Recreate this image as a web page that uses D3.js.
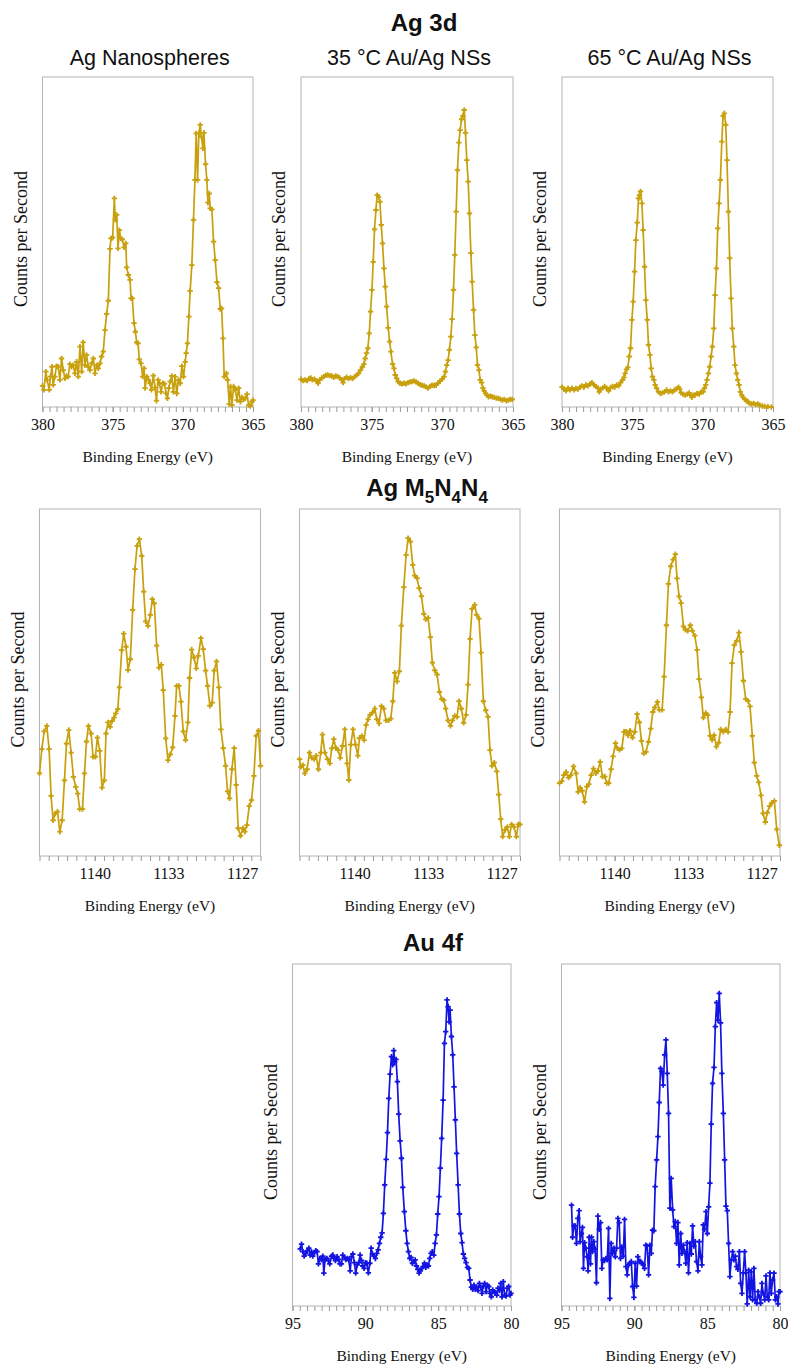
<!DOCTYPE html>
<html><head><meta charset="utf-8">
<script src="https://cdn.jsdelivr.net/npm/d3@7"></script>
<style>body{margin:0;background:#fff} svg{display:block}</style>
</head><body><svg id="c" width="788" height="1367"></svg>
<script>
// ---------------- DATA (binding energy eV, relative counts per second) ----------------
const agNS3d = [[380.00,6.4],[379.90,5.2],[379.76,10.7],[379.67,8.2],[379.52,5.2],[379.43,9.2],[379.33,12.2],[379.24,6.7],[379.12,9.2],[379.00,12.4],[378.88,12.2],[378.76,8.2],[378.64,14.7],[378.52,11.2],[378.40,8.7],[378.29,9.4],[378.17,9.2],[378.05,13.0],[377.93,12.2],[377.81,12.7],[377.69,10.2],[377.57,13.7],[377.45,9.2],[377.33,18.3],[377.21,10.7],[377.10,19.6],[376.98,12.7],[376.86,15.8],[376.74,12.2],[376.62,11.2],[376.50,13.2],[376.38,14.7],[376.26,10.2],[376.14,12.7],[376.02,11.7],[375.90,13.2],[375.79,15.3],[375.67,16.8],[375.55,23.3],[375.43,28.2],[375.31,32.2],[375.19,47.9],[375.12,51.1],[375.00,51.3],[374.88,63.2],[374.81,56.7],[374.71,58.2],[374.62,48.1],[374.52,53.6],[374.43,51.1],[374.31,50.8],[374.19,48.4],[374.07,49.6],[374.00,42.3],[373.88,40.0],[373.76,38.5],[373.69,32.9],[373.60,32.9],[373.48,25.4],[373.38,22.8],[373.29,19.6],[373.19,19.3],[373.10,14.4],[372.98,13.2],[372.86,9.2],[372.76,11.7],[372.69,5.7],[372.57,9.2],[372.45,8.2],[372.33,7.2],[372.24,5.2],[372.10,9.5],[371.98,5.9],[371.88,1.9],[371.76,8.2],[371.67,7.2],[371.55,4.6],[371.43,7.2],[371.31,7.0],[371.19,4.1],[371.10,2.6],[371.00,5.7],[370.90,7.7],[370.79,9.4],[370.67,4.6],[370.55,9.2],[370.43,4.1],[370.31,8.2],[370.19,7.2],[370.07,12.4],[369.95,9.2],[369.83,13.7],[369.76,16.3],[369.67,19.3],[369.57,27.4],[369.48,35.2],[369.36,43.0],[369.24,56.7],[369.14,68.8],[369.05,82.9],[368.95,68.8],[368.86,82.9],[368.76,85.5],[368.67,81.9],[368.57,78.4],[368.50,83.1],[368.38,73.6],[368.29,68.8],[368.21,61.9],[368.12,64.7],[368.05,60.2],[367.93,59.9],[367.81,50.1],[367.69,44.5],[367.57,37.8],[367.45,36.0],[367.33,29.7],[367.24,29.9],[367.14,20.8],[367.05,9.2],[366.90,10.2],[366.81,8.2],[366.69,0.9],[366.60,6.2],[366.50,0.6],[366.38,6.2],[366.26,5.2],[366.14,2.1],[366.02,5.7],[365.90,1.6],[365.79,2.9],[365.67,2.3],[365.55,2.6],[365.43,3.9],[365.31,0.6],[365.19,0.3],[365.07,1.6],[365.00,2.1]];

const au35_3d = [[380.00,8.4],[379.86,8.0],[379.72,8.2],[379.57,8.0],[379.43,8.6],[379.31,8.8],[379.20,8.2],[379.05,8.4],[378.91,8.0],[378.79,7.2],[378.68,8.2],[378.53,8.8],[378.39,9.2],[378.25,9.6],[378.11,9.7],[377.97,9.5],[377.82,9.4],[377.68,9.0],[377.54,9.4],[377.40,9.2],[377.26,8.8],[377.11,8.2],[377.02,7.4],[376.92,8.6],[376.78,9.0],[376.64,8.6],[376.50,8.9],[376.36,8.6],[376.21,9.2],[376.07,9.6],[375.93,10.2],[375.79,11.2],[375.65,12.2],[375.55,13.0],[375.46,14.7],[375.36,16.3],[375.27,17.8],[375.17,22.3],[375.08,28.9],[374.98,35.5],[374.89,44.0],[374.80,53.8],[374.70,59.7],[374.61,64.2],[374.51,63.7],[374.42,62.2],[374.32,55.2],[374.23,49.6],[374.13,42.0],[374.04,36.5],[373.94,30.4],[373.83,24.0],[373.73,19.8],[373.64,16.8],[373.52,13.0],[373.42,11.7],[373.33,9.7],[373.23,8.7],[373.12,7.7],[373.00,7.2],[372.86,7.0],[372.71,7.2],[372.57,7.0],[372.43,7.4],[372.29,7.6],[372.15,7.7],[372.00,7.9],[371.86,7.6],[371.72,7.2],[371.58,6.8],[371.44,6.6],[371.29,6.4],[371.15,6.1],[371.01,5.7],[370.87,6.2],[370.73,6.6],[370.58,6.5],[370.44,6.6],[370.30,7.2],[370.16,7.9],[370.02,8.4],[369.87,9.2],[369.78,10.7],[369.69,12.7],[369.59,14.2],[369.50,17.3],[369.40,21.3],[369.31,26.6],[369.21,35.5],[369.12,46.1],[369.02,59.2],[368.93,71.8],[368.83,80.1],[368.74,83.9],[368.64,87.2],[368.55,88.2],[368.45,90.0],[368.36,83.1],[368.27,74.8],[368.17,68.3],[368.08,58.7],[367.98,46.6],[367.89,38.0],[367.79,29.4],[367.70,21.8],[367.60,18.1],[367.51,12.7],[367.41,11.2],[367.32,8.2],[367.22,7.4],[367.13,5.7],[367.04,4.9],[366.94,4.1],[366.85,3.6],[366.73,3.1],[366.61,3.3],[366.47,3.1],[366.33,2.9],[366.18,2.7],[366.04,2.6],[365.90,2.4],[365.76,2.1],[365.62,2.3],[365.47,1.9],[365.33,2.1],[365.19,2.3],[365.05,2.3]];

const au65_3d = [[380.00,6.0],[379.86,5.4],[379.72,4.9],[379.57,5.7],[379.43,5.2],[379.29,5.7],[379.15,5.2],[379.01,5.6],[378.86,5.4],[378.72,6.0],[378.58,6.4],[378.44,6.0],[378.30,6.7],[378.15,6.4],[378.01,7.0],[377.87,7.4],[377.73,6.7],[377.59,6.2],[377.45,5.7],[377.35,4.6],[377.26,5.4],[377.11,5.7],[376.97,6.2],[376.83,5.7],[376.69,4.9],[376.55,5.9],[376.40,6.2],[376.26,6.0],[376.12,6.7],[375.98,6.4],[375.84,7.4],[375.69,8.2],[375.60,9.0],[375.51,10.2],[375.41,11.4],[375.32,12.0],[375.22,15.3],[375.13,17.8],[375.03,26.4],[374.94,31.9],[374.84,41.0],[374.75,50.6],[374.65,55.9],[374.56,63.2],[374.49,64.2],[374.42,65.3],[374.32,61.7],[374.23,53.6],[374.13,42.5],[374.04,32.4],[373.94,26.4],[373.85,18.8],[373.75,15.8],[373.66,11.7],[373.57,9.2],[373.47,8.2],[373.38,6.7],[373.28,5.7],[373.14,4.6],[373.00,4.1],[372.86,4.3],[372.71,4.6],[372.57,5.2],[372.43,4.6],[372.29,4.9],[372.15,4.6],[372.00,5.2],[371.86,5.4],[371.72,6.0],[371.63,5.4],[371.53,4.3],[371.39,3.9],[371.25,3.6],[371.10,3.9],[370.96,4.3],[370.87,3.6],[370.77,2.9],[370.68,3.6],[370.54,3.6],[370.40,4.1],[370.25,3.9],[370.11,4.6],[369.97,4.6],[369.87,5.7],[369.78,6.7],[369.69,8.2],[369.59,10.2],[369.50,12.2],[369.40,15.3],[369.31,18.3],[369.21,23.8],[369.12,33.9],[369.02,42.0],[368.93,54.1],[368.83,61.7],[368.74,68.8],[368.64,80.4],[368.55,88.2],[368.46,89.0],[368.36,85.5],[368.27,74.8],[368.17,59.2],[368.08,45.1],[367.98,32.9],[367.89,23.8],[367.79,18.3],[367.70,12.7],[367.60,10.2],[367.51,8.2],[367.41,6.7],[367.32,4.6],[367.22,3.6],[367.13,2.9],[367.01,2.3],[366.89,1.9],[366.78,1.6],[366.66,1.1],[366.52,0.9],[366.37,1.1],[366.23,0.7],[366.09,0.9],[365.95,0.6],[365.76,0.3],[365.59,0.2],[365.36,0.1],[365.12,0.0]];

const agNS_MNN = [[1145.00,23.8],[1144.79,30.8],[1144.58,35.9],[1144.34,37.5],[1144.13,30.8],[1143.95,17.3],[1143.77,10.3],[1143.58,12.2],[1143.37,12.8],[1143.16,7.0],[1142.95,10.3],[1142.74,21.8],[1142.56,32.4],[1142.35,36.3],[1142.14,29.8],[1141.93,22.8],[1141.72,19.9],[1141.54,18.0],[1141.36,13.5],[1141.11,13.5],[1140.93,23.8],[1140.75,33.0],[1140.57,37.5],[1140.33,35.3],[1140.15,28.6],[1139.94,28.6],[1139.76,34.1],[1139.55,30.3],[1139.34,19.7],[1139.13,21.8],[1138.98,35.3],[1138.80,38.5],[1138.61,37.2],[1138.43,38.9],[1138.25,39.9],[1138.10,41.1],[1137.92,42.3],[1137.77,48.6],[1137.56,59.3],[1137.38,64.1],[1137.17,60.3],[1136.99,53.6],[1136.78,56.7],[1136.57,70.9],[1136.36,82.7],[1136.17,89.4],[1135.96,91.3],[1135.75,86.5],[1135.57,76.2],[1135.39,67.6],[1135.18,66.3],[1134.97,69.5],[1134.79,74.0],[1134.61,72.8],[1134.40,60.6],[1134.19,54.3],[1133.98,55.1],[1133.80,47.8],[1133.58,33.9],[1133.37,27.6],[1133.16,29.3],[1132.95,31.3],[1132.74,40.4],[1132.59,49.0],[1132.38,49.0],[1132.20,44.5],[1131.99,35.9],[1131.78,33.4],[1131.57,38.5],[1131.42,51.3],[1131.23,59.5],[1131.02,57.2],[1130.81,54.1],[1130.63,57.7],[1130.39,62.8],[1130.18,59.6],[1129.97,53.4],[1129.79,49.0],[1129.58,43.3],[1129.37,44.2],[1129.19,53.4],[1128.98,56.1],[1128.77,48.6],[1128.58,36.5],[1128.37,31.1],[1128.16,26.0],[1127.98,18.6],[1127.80,16.6],[1127.59,25.0],[1127.38,31.1],[1127.20,20.5],[1127.02,8.0],[1126.81,5.8],[1126.60,8.0],[1126.42,7.0],[1126.23,8.9],[1126.02,14.4],[1125.81,16.1],[1125.60,23.1],[1125.39,34.6],[1125.18,36.1],[1125.00,26.0]];

const au35_MNN = [[1145.00,27.9],[1144.88,25.7],[1144.70,26.2],[1144.52,23.8],[1144.31,25.0],[1144.09,29.8],[1143.88,28.3],[1143.67,27.9],[1143.49,28.9],[1143.28,25.0],[1143.07,29.8],[1142.92,35.0],[1142.70,29.8],[1142.46,27.9],[1142.25,26.7],[1142.07,31.0],[1141.89,33.7],[1141.71,31.2],[1141.50,30.5],[1141.31,28.3],[1141.10,31.7],[1140.89,36.5],[1140.68,26.7],[1140.53,21.9],[1140.35,32.1],[1140.14,36.5],[1139.92,32.1],[1139.71,28.9],[1139.56,34.0],[1139.35,34.6],[1139.14,33.4],[1138.96,37.7],[1138.78,39.4],[1138.60,40.7],[1138.38,41.3],[1138.17,42.5],[1137.99,39.4],[1137.78,38.2],[1137.57,43.2],[1137.36,42.5],[1137.15,39.1],[1136.93,39.1],[1136.72,39.6],[1136.54,44.6],[1136.36,52.8],[1136.15,50.3],[1135.94,53.2],[1135.76,66.4],[1135.54,77.5],[1135.33,86.8],[1135.15,91.6],[1134.94,90.6],[1134.73,83.9],[1134.55,80.8],[1134.34,80.1],[1134.15,77.2],[1133.94,74.9],[1133.73,69.8],[1133.55,68.2],[1133.34,68.6],[1133.13,63.1],[1132.95,55.7],[1132.73,53.5],[1132.52,52.3],[1132.31,47.3],[1132.10,45.2],[1131.92,44.9],[1131.74,42.5],[1131.53,39.1],[1131.31,37.5],[1131.13,39.1],[1130.92,40.4],[1130.71,40.1],[1130.53,44.6],[1130.32,42.5],[1130.11,38.4],[1129.89,40.7],[1129.71,49.4],[1129.53,62.6],[1129.35,71.2],[1129.11,72.4],[1128.93,69.5],[1128.72,68.4],[1128.53,58.6],[1128.32,44.6],[1128.11,42.0],[1127.90,40.1],[1127.72,30.5],[1127.54,26.0],[1127.33,26.9],[1127.11,24.4],[1126.93,17.7],[1126.75,10.6],[1126.57,5.6],[1126.36,7.5],[1126.15,8.4],[1125.97,5.6],[1125.76,9.1],[1125.54,8.4],[1125.33,5.6],[1125.15,9.1],[1125.00,9.1]];

const au65_MNN = [[1145.00,21.0],[1144.79,21.6],[1144.61,23.3],[1144.40,24.2],[1144.18,22.6],[1143.97,23.3],[1143.73,25.8],[1143.49,23.8],[1143.31,18.5],[1143.13,19.7],[1142.95,18.8],[1142.73,15.6],[1142.52,20.0],[1142.34,20.7],[1142.13,23.3],[1141.92,25.2],[1141.71,23.8],[1141.53,24.5],[1141.31,27.1],[1141.10,22.9],[1140.89,22.9],[1140.71,21.0],[1140.53,21.0],[1140.32,25.0],[1140.14,28.7],[1139.92,32.5],[1139.74,31.0],[1139.56,30.6],[1139.35,31.0],[1139.14,35.8],[1138.96,35.8],[1138.78,34.8],[1138.60,36.1],[1138.38,34.1],[1138.17,35.8],[1137.96,40.9],[1137.75,38.5],[1137.57,33.2],[1137.36,29.6],[1137.15,30.0],[1136.93,32.9],[1136.72,36.7],[1136.54,41.5],[1136.36,42.8],[1136.12,44.4],[1135.94,42.1],[1135.69,42.1],[1135.51,51.7],[1135.30,66.5],[1135.12,78.4],[1134.91,83.5],[1134.70,85.4],[1134.49,87.0],[1134.34,80.0],[1134.15,74.8],[1133.97,72.9],[1133.76,66.2],[1133.58,65.2],[1133.37,64.9],[1133.13,66.5],[1132.95,64.9],[1132.73,63.5],[1132.52,59.4],[1132.34,51.0],[1132.13,45.7],[1131.95,39.9],[1131.74,41.2],[1131.56,40.6],[1131.34,34.6],[1131.16,33.5],[1130.98,34.8],[1130.77,31.5],[1130.56,32.7],[1130.38,36.5],[1130.14,35.8],[1129.92,36.5],[1129.71,35.8],[1129.53,41.5],[1129.35,55.6],[1129.14,60.8],[1128.93,62.0],[1128.72,64.4],[1128.53,58.8],[1128.32,50.5],[1128.11,45.2],[1127.90,44.7],[1127.72,43.1],[1127.51,34.6],[1127.33,26.9],[1127.11,23.1],[1126.93,21.2],[1126.72,17.5],[1126.54,12.3],[1126.33,9.8],[1126.15,12.5],[1125.94,14.4],[1125.73,15.4],[1125.51,15.9],[1125.30,7.7],[1125.06,3.1]];

const au35_4f = [[94.47,16.7],[94.38,18.1],[94.29,15.9],[94.20,14.6],[94.09,15.4],[93.99,16.2],[93.88,16.9],[93.79,14.9],[93.70,15.9],[93.61,14.6],[93.49,15.6],[93.40,16.2],[93.31,15.9],[93.22,12.3],[93.12,13.9],[93.01,13.5],[92.92,14.6],[92.85,9.6],[92.76,13.6],[92.64,13.9],[92.53,13.3],[92.44,12.3],[92.32,14.6],[92.23,14.9],[92.14,13.9],[92.05,13.3],[91.94,14.4],[91.84,13.6],[91.75,12.3],[91.64,12.3],[91.55,14.9],[91.43,14.2],[91.34,13.6],[91.23,13.9],[91.14,13.5],[91.04,10.3],[90.95,14.4],[90.86,15.2],[90.75,12.7],[90.66,9.6],[90.56,12.0],[90.45,12.7],[90.36,14.9],[90.27,13.3],[90.18,11.7],[90.08,11.0],[89.99,12.7],[89.90,12.5],[89.79,9.7],[89.69,12.5],[89.60,16.9],[89.51,15.2],[89.40,14.6],[89.31,13.9],[89.21,15.4],[89.12,16.4],[89.03,18.3],[88.94,20.1],[88.85,21.4],[88.76,27.1],[88.67,35.4],[88.57,42.9],[88.48,50.7],[88.39,60.7],[88.30,67.8],[88.21,72.9],[88.12,70.5],[88.05,74.7],[87.98,71.4],[87.89,72.1],[87.80,65.6],[87.71,56.1],[87.61,48.3],[87.52,43.2],[87.43,34.7],[87.32,27.6],[87.22,22.0],[87.13,18.3],[87.04,15.9],[86.95,13.9],[86.86,14.2],[86.77,12.5],[86.68,13.0],[86.58,13.5],[86.49,11.7],[86.40,10.7],[86.31,9.6],[86.22,10.3],[86.13,11.0],[86.04,11.5],[85.94,12.5],[85.85,11.3],[85.76,12.0],[85.67,11.7],[85.58,13.9],[85.49,15.4],[85.40,15.9],[85.30,14.9],[85.21,18.3],[85.12,20.8],[85.03,26.9],[84.94,32.0],[84.85,40.3],[84.76,49.0],[84.66,60.2],[84.57,76.8],[84.48,80.2],[84.39,89.5],[84.32,87.5],[84.25,83.1],[84.18,86.5],[84.09,78.8],[84.00,73.4],[83.91,64.1],[83.82,54.4],[83.73,44.6],[83.63,35.4],[83.54,26.9],[83.45,21.2],[83.36,18.5],[83.27,15.2],[83.18,13.9],[83.09,12.7],[82.99,11.3],[82.90,11.0],[82.81,7.6],[82.72,5.5],[82.63,4.9],[82.54,6.1],[82.45,4.9],[82.35,5.5],[82.26,4.5],[82.17,6.6],[82.08,5.5],[81.99,3.7],[81.90,5.8],[81.81,6.6],[81.71,4.2],[81.62,6.1],[81.53,5.7],[81.44,3.7],[81.35,2.7],[81.26,4.7],[81.17,4.2],[81.07,3.9],[80.98,3.2],[80.89,5.2],[80.80,4.5],[80.71,6.6],[80.62,2.7],[80.53,7.1],[80.43,3.2],[80.34,2.9],[80.25,5.2],[80.16,5.7],[80.07,3.2],[80.00,3.7]];

const au65_4f = [[94.31,29.5],[94.24,20.1],[94.15,23.4],[94.06,23.4],[93.97,18.3],[93.88,25.6],[93.79,27.9],[93.72,18.8],[93.63,21.2],[93.56,23.0],[93.49,11.0],[93.42,18.5],[93.33,16.9],[93.24,14.4],[93.17,10.3],[93.10,20.1],[93.01,12.3],[92.94,20.1],[92.87,15.9],[92.78,18.8],[92.69,16.6],[92.60,6.8],[92.50,26.3],[92.41,22.4],[92.32,24.4],[92.23,11.0],[92.14,13.5],[92.05,13.3],[91.95,13.9],[91.86,13.5],[91.77,22.7],[91.68,2.2],[91.59,18.3],[91.50,15.4],[91.40,16.9],[91.31,14.4],[91.22,16.9],[91.13,25.6],[91.04,24.4],[90.95,13.9],[90.86,17.3],[90.76,14.6],[90.67,25.3],[90.58,11.5],[90.49,9.1],[90.40,12.0],[90.31,12.5],[90.21,13.0],[90.12,5.7],[90.03,2.5],[89.94,12.5],[89.85,5.8],[89.76,14.4],[89.66,13.0],[89.57,13.0],[89.48,12.5],[89.39,12.0],[89.30,11.0],[89.21,17.8],[89.12,17.5],[89.02,9.1],[88.93,17.8],[88.84,15.4],[88.75,22.2],[88.66,22.0],[88.57,34.9],[88.47,42.7],[88.38,49.5],[88.29,59.5],[88.20,69.5],[88.11,68.5],[88.02,64.6],[87.92,73.4],[87.83,77.8],[87.74,68.0],[87.65,56.3],[87.56,28.6],[87.47,37.3],[87.37,28.1],[87.28,23.2],[87.19,24.7],[87.10,18.3],[87.01,24.4],[86.92,12.0],[86.82,21.2],[86.73,15.4],[86.64,17.8],[86.55,15.9],[86.46,12.5],[86.37,18.5],[86.28,9.7],[86.18,18.3],[86.09,15.2],[86.00,23.4],[85.91,17.5],[85.82,18.8],[85.73,13.0],[85.63,10.3],[85.54,18.8],[85.45,14.4],[85.36,12.0],[85.27,23.7],[85.18,22.4],[85.08,27.6],[84.99,21.2],[84.90,29.0],[84.81,35.9],[84.72,53.2],[84.63,65.1],[84.53,69.8],[84.44,81.7],[84.35,88.7],[84.26,83.6],[84.17,91.4],[84.08,82.8],[83.99,68.0],[83.89,56.3],[83.80,42.7],[83.71,29.2],[83.62,27.9],[83.53,18.3],[83.44,8.6],[83.34,13.5],[83.25,15.9],[83.16,13.5],[83.07,14.6],[82.98,11.5],[82.89,10.7],[82.79,15.9],[82.70,6.6],[82.61,3.7],[82.52,9.7],[82.43,15.9],[82.34,9.7],[82.25,0.6],[82.15,10.5],[82.06,2.7],[81.97,10.0],[81.88,1.8],[81.79,11.0],[81.70,1.8],[81.60,0.8],[81.51,4.2],[81.42,2.7],[81.33,0.8],[81.24,6.6],[81.15,3.7],[81.05,1.8],[80.96,8.8],[80.87,2.7],[80.78,1.8],[80.69,9.7],[80.60,3.7],[80.51,7.6],[80.41,9.6],[80.32,1.8],[80.23,2.7],[80.14,0.6],[80.07,4.2],[80.00,4.2]];

// tick values / labels
const ag3dTicks = [380, 375, 370, 365];
const ag3dTickLabels = ["380", "375", "370", "365"];
const mnnTicks = [1140, 1133.333, 1126.667];
const mnnTickLabels = ["1140", "1133", "1127"];
const au4fTicks = [95, 90, 85, 80];
const au4fTickLabels = ["95", "90", "85", "80"];
const sampleTitles = ["Ag Nanospheres", "35 \u00B0C Au/Ag NSs", "65 \u00B0C Au/Ag NSs"];

// ---------------- LAYOUT ----------------
const GOLD = "#c8a00c", BLUE = "#1414e2";
const SERIF = "'Liberation Serif','Times New Roman',serif";
const SANS = "'Liberation Sans',Arial,sans-serif";

const rows = [
  {top: 77, bottom: 407, domain: [380, 365], ticks: ag3dTicks, labels: ag3dTickLabels, minorStep: 0.5, color: GOLD},
  {top: 509, bottom: 856, domain: [1145, 1125], ticks: mnnTicks, labels: mnnTickLabels, minorStep: 20/24, color: GOLD},
  {top: 964, bottom: 1306, domain: [95, 80], ticks: au4fTicks, labels: au4fTickLabels, minorStep: 0.5, color: BLUE}
];
const panels = [
  {row: 0, x0: 42.5, x1: 253, data: agNS3d, sub: sampleTitles[0]},
  {row: 0, x0: 301, x1: 513, data: au35_3d, sub: sampleTitles[1]},
  {row: 0, x0: 562, x1: 773, data: au65_3d, sub: sampleTitles[2]},
  {row: 1, x0: 39.5, x1: 260.5, data: agNS_MNN},
  {row: 1, x0: 299.5, x1: 520, data: au35_MNN},
  {row: 1, x0: 559.5, x1: 780, data: au65_MNN},
  {row: 2, x0: 292.5, x1: 511, data: au35_4f},
  {row: 2, x0: 561.5, x1: 780, data: au65_4f}
];

const svg = d3.select("#c");
svg.append("rect").attr("width", 788).attr("height", 1367).attr("fill", "#fff");

panels.forEach(p => {
  const r = rows[p.row];
  const x = d3.scaleLinear().domain(r.domain).range([p.x0, p.x1]);
  const y = d3.scaleLinear().domain([0, 100]).range([r.bottom, r.top]);
  const g = svg.append("g");

  g.append("rect").attr("x", p.x0).attr("y", r.top)
    .attr("width", p.x1 - p.x0).attr("height", r.bottom - r.top)
    .attr("fill", "none").attr("stroke", "#b4b4b4").attr("stroke-width", 1);

  const nMinor = Math.round(Math.abs(r.domain[0] - r.domain[1]) / r.minorStep);
  const minors = d3.range(nMinor + 1).map(i => r.domain[0] - i * r.minorStep);
  const ax1 = g.append("g").attr("transform", `translate(0,${r.bottom})`)
    .call(d3.axisBottom(x).tickValues(minors).tickSize(5).tickFormat(""));
  ax1.select(".domain").remove();
  ax1.selectAll("line").attr("stroke", "#9a9a9a");

  const ax2 = g.append("g").attr("transform", `translate(0,${r.bottom})`)
    .call(d3.axisBottom(x).tickValues(r.ticks).tickSize(5).tickPadding(7)
      .tickFormat((d, i) => r.labels[i]));
  ax2.select(".domain").remove();
  ax2.selectAll("line").attr("stroke", "#9a9a9a");
  ax2.selectAll("text").attr("font-family", SERIF).attr("font-size", 16).attr("fill", "#111");

  g.append("text").attr("x", (p.x0 + p.x1) / 2).attr("y", r.bottom + 55)
    .attr("text-anchor", "middle").attr("font-family", SERIF).attr("font-size", 15.5)
    .attr("fill", "#111").text("Binding Energy (eV)");

  g.append("text")
    .attr("transform", `translate(${p.x0 - 22},${(r.top + r.bottom) / 2 - 3}) rotate(-90)`)
    .attr("text-anchor", "middle").attr("dy", "0.35em")
    .attr("font-family", SERIF).attr("font-size", 18).attr("fill", "#111")
    .text("Counts per Second");

  const line = d3.line().x(d => x(d[0])).y(d => y(d[1]));
  g.append("path").datum(p.data).attr("d", line)
    .attr("fill", "none").attr("stroke", r.color).attr("stroke-width", 1.7)
    .attr("stroke-linejoin", "round");
  const sym = d3.symbol(d3.symbolCross, 16);
  g.selectAll(".m").data(p.data).join("path").attr("class", "m")
    .attr("transform", d => `translate(${x(d[0])},${y(d[1])})`)
    .attr("d", sym).attr("fill", r.color);

  if (p.sub) {
    g.append("text").attr("x", (p.x0 + p.x1) / 2 + 2).attr("y", 65)
      .attr("text-anchor", "middle").attr("font-family", SANS).attr("font-size", 21.5)
      .attr("fill", "#111").text(p.sub);
  }
});

// section titles
const TX = 424;
svg.append("text").attr("x", TX).attr("y", 31).attr("text-anchor", "middle")
  .attr("font-family", SANS).attr("font-weight", "bold").attr("font-size", 24)
  .attr("fill", "#111").text("Ag 3d");

const t2 = svg.append("text").attr("x", TX + 3).attr("y", 496).attr("text-anchor", "middle")
  .attr("font-family", SANS).attr("font-weight", "bold").attr("font-size", 24).attr("fill", "#111");
t2.append("tspan").text("Ag M");
t2.append("tspan").attr("font-size", 17).attr("dy", 7).text("5");
t2.append("tspan").attr("dy", -7).text("N");
t2.append("tspan").attr("font-size", 17).attr("dy", 7).text("4");
t2.append("tspan").attr("dy", -7).text("N");
t2.append("tspan").attr("font-size", 17).attr("dy", 7).text("4");

svg.append("text").attr("x", TX + 9).attr("y", 951).attr("text-anchor", "middle")
  .attr("font-family", SANS).attr("font-weight", "bold").attr("font-size", 24)
  .attr("fill", "#111").text("Au 4f");
</script></body></html>
